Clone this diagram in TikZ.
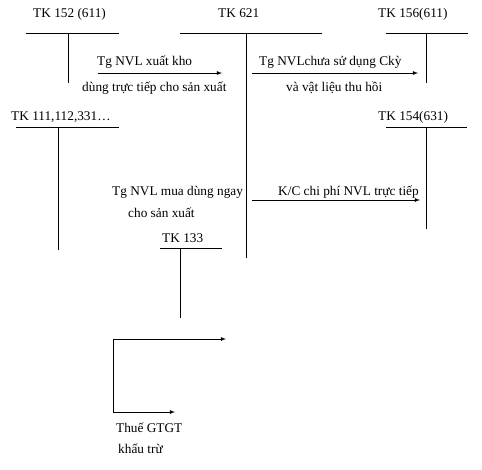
\documentclass[tikz,border=0pt]{standalone}
\usepackage{fontspec}
\setmainfont{Liberation Serif}
\usetikzlibrary{arrows,positioning}

\begin{document}
\begin{tikzpicture}[x=1pt, y=-1pt,
    lbl/.style={anchor=base west, inner sep=0pt, font=\fontsize{13.3}{15}\selectfont},
    tline/.style={line width=0.8pt},
    arrow/.style={->, >=latex, line width=0.8pt}]

\useasboundingbox (0,0) rectangle (482,469);

% account titles
\node[lbl] (t152) at (33,17) {TK 152 (611)};
\node[lbl] (t621) at (218,17) {TK 621};
\node[lbl] (t156) at (378,17) {TK 156(611)};
\node[lbl] (t111) at (11,120) {TK 111,112,331\ldots};
\node[lbl] (t154) at (378,120) {TK 154(631)};
\node[lbl] (t133) at (162,242) {TK 133};

% T accounts
\draw[tline] (26,33) -- (119,33) (68,33) -- (68,83);
\draw[tline] (180,33) -- (322,33) (246,33) -- (246,258);
\draw[tline] (386,33) -- (468,33) (426,33) -- (426,83);
\draw[tline] (16,127) -- (119,127) (58,127) -- (58,250);
\draw[tline] (386,127) -- (467,127) (426,127) -- (426,229);
\draw[tline] (160,248) -- (222,248) (180,248) -- (180,318);

% flows
\coordinate (a1s) at (98,73);
\coordinate (a1e) at (222,73);
\coordinate (a2s) at (252,73);
\coordinate (a2e) at (418,73);
\coordinate (a3s) at (252,200);
\coordinate (a3e) at (420,200);
\coordinate (vat1) at (226,339);
\coordinate (vatc) at (113,339);
\coordinate (vat2) at (175,412);

\node[lbl] (x1) at (97,65) {Tg NVL xuất kho};
\node[lbl] (x1b) at (82,91) {dùng trực tiếp cho sản xuất};
\node[lbl] (x2) at (259,65) {Tg NVLchưa sử dụng Ckỳ};
\node[lbl] (x2b) at (286,91) {và vật liệu thu hồi};
\node[lbl] (x3) at (112,195) {Tg NVL mua dùng ngay};
\node[lbl] (x3b) at (128,217) {cho sản xuất};
\node[lbl] (x4) at (278,195) {K/C chi phí NVL trực tiếp};
\node[lbl] (x5) at (116,432) {Thuế GTGT};
\node[lbl] (x5b) at (118,453) {khấu trừ};

\draw[arrow] (a1s) -- (a1e);
\draw[arrow] (a2s) -- (a2e);
\draw[arrow] (a3s) -- (a3e);
\draw[arrow] (vatc) -- (vat1);
\draw[arrow] (vatc) |- (vat2);
\end{tikzpicture}
\end{document}
